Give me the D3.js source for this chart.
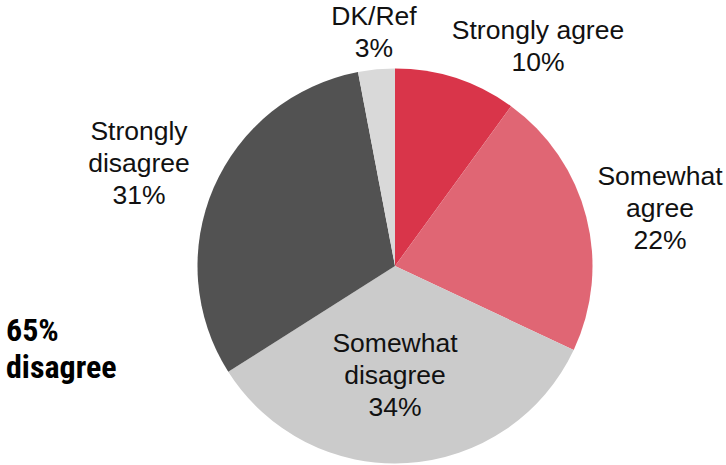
<!DOCTYPE html>
<html>
<head>
<meta charset="utf-8">
<script src="https://cdn.jsdelivr.net/npm/d3@7"></script>
<style>
  html, body { margin: 0; padding: 0; background: #fff; }
  svg { display: block; }
</style>
</head>
<body>
<svg id="chart" width="726" height="465"></svg>
<script>
// Data
const categories = ["Strongly agree", "Somewhat agree", "Somewhat disagree", "Strongly disagree", "DK/Ref"];
const values = [10, 22, 34, 31, 3];
const colors = ["#d9354a", "#e06674", "#cbcbcb", "#525252", "#d9d9d9"];
const labelLines = [
  ["Strongly agree", "10%"],
  ["Somewhat", "agree", "22%"],
  ["Somewhat", "disagree", "34%"],
  ["Strongly", "disagree", "31%"],
  ["DK/Ref", "3%"]
];
const summaryLines = ["65%", "disagree"];

// Layout
const W = 726, H = 465;
const cx = 395, cy = 266, R = 197.5;
const lineH = 32;
// first-line baseline positions for each label
const labelPos = [
  { x: 538, y: 39 },
  { x: 660, y: 185 },
  { x: 395, y: 352 },
  { x: 139, y: 140 },
  { x: 374, y: 25 }
];

const svg = d3.select("#chart");

const pie = d3.pie().sort(null).value(d => d.value);
const arc = d3.arc().innerRadius(0).outerRadius(R);

const data = categories.map((c, i) => ({ cat: c, value: values[i], color: colors[i], lines: labelLines[i], pos: labelPos[i] }));

const g = svg.append("g").attr("transform", `translate(${cx},${cy})`);
g.selectAll("path")
  .data(pie(data))
  .join("path")
  .attr("d", arc)
  .attr("fill", d => d.data.color);

const labels = svg.append("g")
  .attr("font-family", "'Liberation Sans', Arial, Helvetica, sans-serif")
  .attr("font-size", 26.5)
  .attr("fill", "#111")
  .attr("text-anchor", "middle");

data.forEach(d => {
  const t = labels.append("text").attr("x", d.pos.x).attr("y", d.pos.y);
  d.lines.forEach((line, j) => {
    t.append("tspan").attr("x", d.pos.x).attr("y", d.pos.y + j * lineH).text(line);
  });
});

const sum = svg.append("text")
  .attr("font-family", "'Liberation Sans Narrow', 'Roboto Condensed', Arial, sans-serif")
  .attr("font-weight", "bold")
  .attr("font-size", 32)
  .attr("fill", "#000");
summaryLines.forEach((line, j) => {
  sum.append("tspan").attr("x", 6).attr("y", 341 + j * 37).text(line);
});
</script>
</body>
</html>
